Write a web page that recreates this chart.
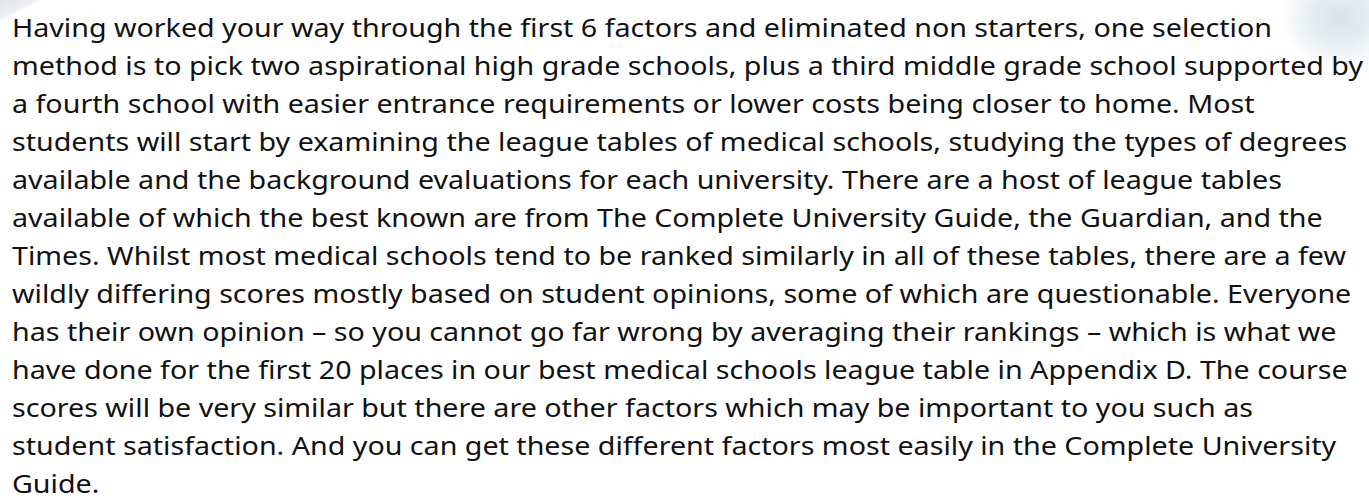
<!DOCTYPE html>
<html>
<head>
<meta charset="utf-8">
<script src="https://cdn.jsdelivr.net/npm/chart.js@4"></script>
<style>
  html, body { margin: 0; padding: 0; background: #fff; }
  body { width: 1369px; height: 501px; overflow: hidden; position: relative; }
  #deco_left {
    position: absolute; left: 0; top: 0; width: 44px; height: 22px;
    background: linear-gradient(to bottom right, #e2e4e8 0%, #eceef1 40%, rgba(255,255,255,0) 50%);
  }
  #deco_right {
    position: absolute; left: 1280px; top: -35px; width: 120px; height: 105px;
    background: radial-gradient(ellipse at center, #d9e3e8 0%, #e6edf0 35%, rgba(255,255,255,0) 70%);
  }
  #text {
    position: absolute; left: 12px; top: 8px;
    font-family: "Noto Sans", sans-serif; font-size: 26px; line-height: 38px;
    color: #111; white-space: pre;
  }
  #text div { transform-origin: 0 0; width: max-content; }
</style>
</head>
<body>
<div id="deco_left"></div>
<div id="deco_right"></div>
<div id="text"></div>
<script>
var lines = [
  "Having worked your way through the first 6 factors and eliminated non starters, one selection",
  "method is to pick two aspirational high grade schools, plus a third middle grade school supported by",
  "a fourth school with easier entrance requirements or lower costs being closer to home. Most",
  "students will start by examining the league tables of medical schools, studying the types of degrees",
  "available and the background evaluations for each university. There are a host of league tables",
  "available of which the best known are from The Complete University Guide, the Guardian, and the",
  "Times. Whilst most medical schools tend to be ranked similarly in all of these tables, there are a few",
  "wildly differing scores mostly based on student opinions, some of which are questionable. Everyone",
  "has their own opinion \u2013 so you cannot go far wrong by averaging their rankings \u2013 which is what we",
  "have done for the first 20 places in our best medical schools league table in Appendix D. The course",
  "scores will be very similar but there are other factors which may be important to you such as",
  "student satisfaction. And you can get these different factors most easily in the Complete University",
  "Guide."
];

// widest line in the picture runs from x=12 to about x=1363
var target_width = 1351;

var box = document.getElementById('text');
var rows = [];
lines.forEach(function(l){
    var d = document.createElement('div');
    d.textContent = l;
    box.appendChild(d);
    rows.push(d);
});
var w = rows[1].getBoundingClientRect().width;
var sx = target_width / w;
rows.forEach(function(d){
    d.style.transform = 'scaleX(' + sx + ')';
});
</script>
</body>
</html>
